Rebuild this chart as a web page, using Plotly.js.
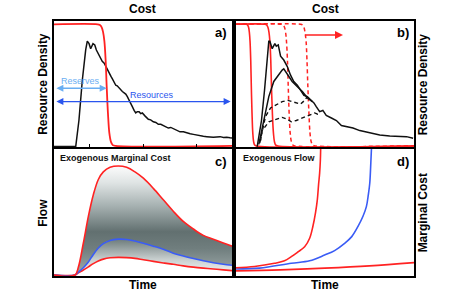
<!DOCTYPE html>
<html><head><meta charset="utf-8">
<script src="https://cdn.plot.ly/plotly-3.0.1.min.js"></script>
<style>html,body{margin:0;padding:0;background:#fff}#chart{width:449px;height:293px}</style>
</head><body><div id="chart"></div>
<script>
// ---------- Panel a: resource density vs cost ----------
const aX = [0,12.2,14.0,15.9,17.8,18.7,19.7,20.6,21.9,22.9,23.8,25.3,27.1,28.2,29.0,30.0,30.9,32.0,32.8,33.7,34.7,35.5,36.5,37.4,38.4,39.4,40.3,41.2,42.1,43.0,44.0,45.0,45.9,46.8,47.8,48.7,49.6,51.2,53.0,54.3,55.8,57.2,58.6,60.0,61.4,62.8,64.2,65.6,67.0,69.0,70.8,72.7,74.6,76.5,78.3,80.2,82.0,83.9,85.8,87.6,89.5,91.4,93.3,95.2,97.0,98.9,100];
const aY = [0.003,0.003,0.21,0.53,0.77,0.84,0.82,0.78,0.82,0.81,0.77,0.73,0.68,0.665,0.64,0.615,0.58,0.56,0.54,0.52,0.49,0.485,0.47,0.45,0.44,0.43,0.42,0.40,0.37,0.35,0.32,0.29,0.27,0.28,0.28,0.265,0.27,0.245,0.22,0.215,0.20,0.195,0.18,0.18,0.17,0.155,0.15,0.155,0.145,0.13,0.12,0.12,0.11,0.105,0.10,0.093,0.087,0.085,0.082,0.078,0.077,0.08,0.082,0.076,0.078,0.074,0.072];
const dropY = [0.974,0.974,0.968,0.95,0.91,0.84,0.69,0.48,0.27,0.11,0.04,0.015,0.008,0.008];
const aRedX = [0,24.5,25.8,26.8,27.6,28.3,29.0,29.6,30.3,31.1,32.0,33.0,34.7,100];
const reservesRange = [0.5, 29.6];
const resourcesRange = [0.5, 99.2];
const reservesY = 0.466, resourcesY = 0.36;

// ---------- Panel b ----------
const bX = [12.1,14.5,16.2,17.9,18.6,19.2,20.5,22.0,22.8,23.9,25.2,27.0,28.9,30.8,32.6,34.6,36.4,38.3,40.2,42.4,43.9,45.2,47.1,48.9,50.8,53.7,56.5,59.3,62.1,65.8,69.6,73.3,77.0,80.8,86.4,92.0,95.8,99.5];
const bY = [0.003,0.21,0.45,0.73,0.84,0.84,0.78,0.82,0.80,0.81,0.72,0.69,0.64,0.57,0.52,0.49,0.45,0.41,0.40,0.37,0.35,0.32,0.28,0.29,0.25,0.23,0.21,0.17,0.16,0.15,0.13,0.12,0.11,0.095,0.087,0.082,0.082,0.069];
const b2X = [13.0,15.8,18.6,21.4,24.2,26.1,27.0,28.0,29.8,31.7,34.5,37.4,40.2,43.0];
const b2Y = [0.02,0.21,0.40,0.52,0.58,0.61,0.62,0.60,0.56,0.52,0.48,0.44,0.39,0.36];
const b3X = [13.5,16.7,19.6,22.4,26.1,29.3,31.5,34.0,36.4,38.7,40.2];
const b3Y = [0.03,0.24,0.31,0.33,0.36,0.37,0.36,0.35,0.34,0.37,0.40];
const b4X = [14.0,14.9,18.6,22.4,26.1,29.0,31.2,34.0,38.3,41.1,44.3,46.0,47.6];
const b4Y = [0.05,0.13,0.20,0.22,0.235,0.22,0.20,0.21,0.235,0.25,0.27,0.26,0.27];
const bRed1X = [0,6.0,6.7,7.26,7.7,8.08,8.47,8.8,9.19,9.63,10.12,10.67,11.6,100];
const bRed2X = [0,16.5,17.4,18.1,18.7,19.2,19.7,20.1,20.6,21.2,21.8,22.5,23.7,100];
const bRed3X = [0,25.7,26.7,27.4,28.0,28.5,29.05,29.5,30.0,30.6,31.3,32.1,33.3,100];
const bRed4X = [0,36.4,37.5,38.3,38.9,39.5,40.0,40.5,41.1,41.7,42.4,43.2,44.6,100];
const shiftArrow = {x0: 38.2, x1: 60.2, y: 0.889};

// ---------- Panel c ----------
const cX = [0,11.8,13.7,16.5,19.3,22.1,24.9,27.7,31.5,36.1,40.8,45.5,50.2,55.8,61.4,67,72.6,78.3,83.9,89.5,95.1,100];
const cUp = [0.008,0.008,0.07,0.26,0.47,0.64,0.76,0.82,0.856,0.866,0.856,0.82,0.77,0.69,0.60,0.51,0.43,0.37,0.32,0.29,0.26,0.235];
const cMid = [0.008,0.008,0.03,0.065,0.11,0.17,0.22,0.255,0.28,0.29,0.288,0.275,0.258,0.235,0.21,0.18,0.158,0.138,0.12,0.105,0.093,0.085];
const cLow = [0.008,0.008,0.025,0.047,0.072,0.097,0.118,0.133,0.144,0.147,0.145,0.139,0.128,0.115,0.103,0.092,0.08,0.07,0.062,0.055,0.048,0.042];

// ---------- Panel d ----------
const dRedX = [0,10.6,21.8,27.4,31.2,34.7,38.7,41.5,43.3,44.8,45.8,46.5,47.1,47.5,47.7];
const dRedY = [0.065,0.075,0.10,0.12,0.152,0.187,0.23,0.297,0.39,0.50,0.6,0.72,0.81,0.91,1.02];
const dBlueX = [0,13.4,31.2,41.5,49.9,55.5,61.1,65.1,68.6,71.4,73.3,74.4,75.2,75.7,76.2];
const dBlueY = [0.055,0.062,0.10,0.12,0.165,0.2,0.257,0.31,0.39,0.47,0.546,0.64,0.73,0.86,1.02];
const dLowX = [0,25,50,75,100];
const dLowY = [0.04,0.048,0.062,0.08,0.105];

const RED = '#ff2222', BLUE = '#3a5cf5', BLACK = '#111111';
const LBLUE = '#6aaef2', RBLUE = '#2a55ee';
const DARK = 'rgb(98,112,112)';

function ln(x, y, xa, ya, color, width, dash, shape) {
  return {x, y, xaxis: xa, yaxis: ya, type: 'scatter', mode: 'lines', hoverinfo: 'skip',
    line: {color, width, dash: dash || 'solid', shape: shape || 'linear'}, showlegend: false};
}

const traces = [
  // panel a
  ln(aX, aY, 'x', 'y', BLACK, 1.5),
  ln(aRedX, dropY, 'x', 'y', RED, 1.8, 'solid', 'spline'),
  // panel b
  ln(bRed3X, dropY, 'x2', 'y2', RED, 1.5, '4px,3px', 'spline'),
  ln(bRed4X, dropY, 'x2', 'y2', RED, 1.5, '4px,3px', 'spline'),
  ln(bRed1X, dropY, 'x2', 'y2', RED, 1.6, 'solid', 'spline'),
  ln(bRed2X, dropY, 'x2', 'y2', RED, 1.6, 'solid', 'spline'),
  ln(b4X, b4Y, 'x2', 'y2', BLACK, 1.4, '4px,3px'),
  ln(b3X, b3Y, 'x2', 'y2', BLACK, 1.4, '4px,3px'),
  ln(b2X, b2Y, 'x2', 'y2', BLACK, 1.5),
  ln(bX, bY, 'x2', 'y2', BLACK, 1.5),
  // panel c fan
  ln(cX, cLow, 'x3', 'y3', 'rgba(0,0,0,0)', 0, 'solid', 'spline'),
  Object.assign(ln(cX, cMid, 'x3', 'y3', 'rgba(0,0,0,0)', 0, 'solid', 'spline'), {
    fill: 'tonexty', fillcolor: 'rgba(150,160,160,0.6)',
    fillgradient: {type: 'vertical', start: 0.0, stop: 0.29,
      colorscale: [[0, 'rgb(250,251,251)'], [0.45, 'rgb(200,207,207)'], [1, 'rgb(110,124,124)']]}}),
  Object.assign(ln(cX, cUp, 'x3', 'y3', 'rgba(0,0,0,0)', 0, 'solid', 'spline'), {
    fill: 'tonexty', fillcolor: 'rgba(150,160,160,0.6)',
    fillgradient: {type: 'vertical', start: 0.05, stop: 0.88,
      colorscale: [[0, 'rgb(150,162,162)'], [0.2, 'rgb(112,126,126)'], [0.36, DARK], [0.6, 'rgb(165,176,176)'],
                   [0.82, 'rgb(222,227,227)'], [1, 'rgb(255,255,255)']]}}),
  ln(cX, cLow, 'x3', 'y3', RED, 1.6, 'solid', 'spline'),
  ln(cX, cMid, 'x3', 'y3', BLUE, 1.6, 'solid', 'spline'),
  ln(cX, cUp, 'x3', 'y3', RED, 1.6, 'solid', 'spline'),
  // panel d
  ln(dLowX, dLowY, 'x4', 'y4', RED, 1.6, 'solid', 'spline'),
  ln(dBlueX, dBlueY, 'x4', 'y4', BLUE, 1.6, 'solid', 'spline'),
  ln(dRedX, dRedY, 'x4', 'y4', RED, 1.6, 'solid', 'spline')
];

const ax = (dom, extra) => Object.assign({domain: dom, range: [0, 100], showgrid: false, zeroline: false,
  showticklabels: false, ticks: '', showline: true, mirror: true, linecolor: '#000', linewidth: 2, fixedrange: true}, extra || {});
const ay = (dom, anchor) => ({domain: dom, anchor, range: [0, 1], showgrid: false, zeroline: false,
  showticklabels: false, ticks: '', showline: true, mirror: true, linecolor: '#000', linewidth: 2, fixedrange: true});

const T = (text, x, y, extra) => Object.assign({text, x, y, xref: 'paper', yref: 'paper', showarrow: false,
  xanchor: 'center', yanchor: 'middle', font: {family: 'Liberation Sans, Arial, sans-serif', size: 12, color: '#000'}}, extra || {});
const bold = (s) => '<b>' + s + '</b>';
const LF = {size: 13, color: '#000', family: 'Liberation Sans, Arial'};

const annotations = [
  T(bold('Cost'), 0.247, 1.047),
  T(bold('Cost'), 0.753, 1.047),
  T(bold('Time'), 0.247, -0.035),
  T(bold('Time'), 0.753, -0.035),
  T(bold('Resource Density'), -0.031, 0.753, {textangle: -90}),
  T(bold('Flow'), -0.031, 0.247, {textangle: -90}),
  T(bold('Resource Density'), 1.026, 0.753, {textangle: -90}),
  T(bold('Marginal Cost'), 1.026, 0.247, {textangle: -90}),
  // panel letters
  {text: bold('a)'), xref: 'x domain', yref: 'y domain', x: 0.985, y: 0.905, xanchor: 'right', yanchor: 'middle', showarrow: false, font: LF},
  {text: bold('b)'), xref: 'x2 domain', yref: 'y2 domain', x: 0.985, y: 0.905, xanchor: 'right', yanchor: 'middle', showarrow: false, font: LF},
  {text: bold('c)'), xref: 'x3 domain', yref: 'y3 domain', x: 0.985, y: 0.9, xanchor: 'right', yanchor: 'middle', showarrow: false, font: LF},
  {text: bold('d)'), xref: 'x4 domain', yref: 'y4 domain', x: 0.985, y: 0.9, xanchor: 'right', yanchor: 'middle', showarrow: false, font: LF},
  {text: bold('Exogenous Marginal Cost'), xref: 'x3 domain', yref: 'y3 domain', x: 0.02, y: 0.93, xanchor: 'left', yanchor: 'middle', showarrow: false, font: {size: 9, color: '#111', family: 'Liberation Sans, Arial'}},
  {text: bold('Exogenous Flow'), xref: 'x4 domain', yref: 'y4 domain', x: 0.028, y: 0.93, xanchor: 'left', yanchor: 'middle', showarrow: false, font: {size: 9, color: '#111', family: 'Liberation Sans, Arial'}},
  // reserves / resources arrows
  {text: '', xref: 'x', yref: 'y', axref: 'x', ayref: 'y', x: reservesRange[1], y: reservesY, ax: reservesRange[0], ay: reservesY,
    showarrow: true, arrowside: 'end+start', arrowhead: 2, startarrowhead: 2, arrowsize: 1, startarrowsize: 1, arrowwidth: 1.4, arrowcolor: LBLUE, standoff: 0, startstandoff: 0},
  {text: 'Reserves', xref: 'x', yref: 'y', x: 14.8, y: 0.525, showarrow: false, font: {size: 9, color: LBLUE, family: 'Liberation Sans, Arial'}},
  {text: '', xref: 'x', yref: 'y', axref: 'x', ayref: 'y', x: resourcesRange[1], y: resourcesY, ax: resourcesRange[0], ay: resourcesY,
    showarrow: true, arrowside: 'end+start', arrowhead: 2, startarrowhead: 2, arrowsize: 1, startarrowsize: 1, arrowwidth: 1.4, arrowcolor: RBLUE, standoff: 0, startstandoff: 0},
  {text: 'Resources', xref: 'x', yref: 'y', x: 55, y: 0.415, showarrow: false, font: {size: 9, color: RBLUE, family: 'Liberation Sans, Arial'}},
  // shift arrow in b
  {text: '', xref: 'x2', yref: 'y2', axref: 'x2', ayref: 'y2', x: shiftArrow.x1, y: shiftArrow.y, ax: shiftArrow.x0, ay: shiftArrow.y,
    showarrow: true, arrowhead: 2, arrowsize: 1, arrowwidth: 1.6, arrowcolor: RED, standoff: 0}
];

const layout = {
  width: 449, height: 293,
  margin: {l: 54, r: 35, t: 21, b: 17, pad: 0},
  paper_bgcolor: '#fff', plot_bgcolor: '#fff',
  showlegend: false,
  font: {family: 'Liberation Sans, Arial, sans-serif'},
  xaxis: ax([0, 0.4945], {anchor: 'y', ticks: 'inside', ticklen: 3, tickwidth: 1, tickcolor: '#000', tickvals: [20, 50, 80]}),
  yaxis: ay([0.506, 1], 'x'),
  xaxis2: ax([0.5045, 1], {anchor: 'y2'}),
  yaxis2: ay([0.506, 1], 'x2'),
  xaxis3: ax([0, 0.4945], {anchor: 'y3'}),
  yaxis3: ay([0, 0.498], 'x3'),
  xaxis4: ax([0.5045, 1], {anchor: 'y4'}),
  yaxis4: ay([0, 0.498], 'x4'),
  annotations
};

Plotly.newPlot('chart', traces, layout, {displayModeBar: false, staticPlot: true});
</script>
</body></html>
